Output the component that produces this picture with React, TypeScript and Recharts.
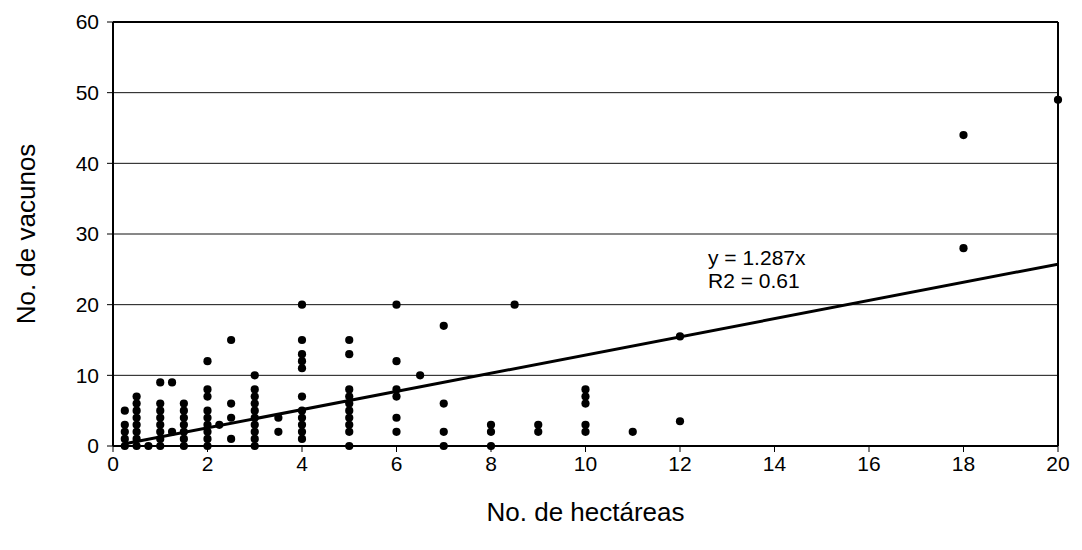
import React from 'react';
import { ScatterChart, Scatter, XAxis, YAxis, CartesianGrid, ReferenceLine } from 'recharts';

// No. de hectáreas (x) and No. de vacunos (y), paired by index
const hectareas = [
  0.25, 0.25, 0.25, 0.25, 0.25,
  0.5, 0.5, 0.5, 0.5, 0.5, 0.5, 0.5, 0.5,
  0.75,
  1, 1, 1, 1, 1, 1, 1, 1,
  1.25, 1.25,
  1.5, 1.5, 1.5, 1.5, 1.5, 1.5, 1.5,
  2, 2, 2, 2, 2, 2, 2, 2, 2,
  2.25,
  2.5, 2.5, 2.5, 2.5,
  3, 3, 3, 3, 3, 3, 3, 3, 3, 3,
  3.5, 3.5,
  4, 4, 4, 4, 4, 4, 4, 4, 4, 4, 4,
  5, 5, 5, 5, 5, 5, 5, 5, 5, 5,
  6, 6, 6, 6, 6, 6,
  6.5,
  7, 7, 7, 7,
  8, 8, 8,
  8.5,
  9, 9,
  10, 10, 10, 10, 10,
  11,
  12, 12,
  18, 18,
  20,
];
const vacunos = [
  0, 1, 2, 3, 5,
  0, 1, 2, 3, 4, 5, 6, 7,
  0,
  0, 1, 2, 3, 4, 5, 6, 9,
  2, 9,
  0, 1, 2, 3, 4, 5, 6,
  0, 1, 2, 3, 4, 5, 7, 8, 12,
  3,
  1, 4, 6, 15,
  0, 1, 2, 3, 4, 5, 6, 7, 8, 10,
  2, 4,
  1, 2, 3, 4, 5, 7, 11, 12, 13, 15, 20,
  0, 2, 3, 4, 5, 6, 7, 8, 13, 15,
  2, 4, 7, 8, 12, 20,
  10,
  0, 2, 6, 17,
  0, 2, 3,
  20,
  2, 3,
  2, 3, 6, 7, 8,
  2,
  3.5, 15.5,
  28, 44,
  49,
];

const xTicks = [0, 2, 4, 6, 8, 10, 12, 14, 16, 18, 20];
const yTicks = [0, 10, 20, 30, 40, 50, 60];

const trendSlope = 1.287;
const trendFrom = 0.25;
const trendTo = 20;
const equationText = 'y = 1.287x';
const r2Text = 'R2 = 0.61';
const xTitle = 'No. de hectáreas';
const yTitle = 'No. de vacunos';

const points = hectareas.map((x, i) => ({ x, y: vacunos[i] }));

const FONT = '"Liberation Sans", Arial, sans-serif';
const W = 1066;
const H = 520;

const Dot = (props: any) => <circle cx={props.cx} cy={props.cy} r={4.1} fill="#000" />;

const XTick = (p: any) => {
  const v = p.payload && p.payload.value;
  return (
    <text
      x={p.x}
      y={p.y}
      dy="0.71em"
      textAnchor="middle"
      fontSize={21}
      fontFamily={FONT}
      fill="#000"
    >
      {v}
    </text>
  );
};

export default function App() {
  return (
    <div style={{ position: 'relative', width: W, height: H, fontFamily: FONT }}>
      <ScatterChart width={W} height={H} margin={{ top: 14, right: 16, bottom: 0, left: 0 }}>
        <CartesianGrid vertical={false} stroke="#111" strokeWidth={1} />
        <XAxis
          type="number"
          dataKey="x"
          domain={[0, 20]}
          ticks={xTicks}
          interval={0}
          height={82}
          axisLine={{ stroke: '#000', strokeWidth: 2 }}
          tickLine={{ stroke: '#000', strokeWidth: 1 }}
          tickSize={6}
          tickMargin={4}
          tick={(p: any) => <XTick {...p} />}
          label={{
            content: (p: any) => {
              const vb = p.viewBox;
              return (
                <text
                  x={vb.x + vb.width / 2}
                  y={vb.y + 66}
                  textAnchor="middle"
                  dominantBaseline="central"
                  fontSize={26}
                  fontFamily={FONT}
                  fill="#000"
                >
                  {xTitle}
                </text>
              );
            },
          }}
        />
        <YAxis
          type="number"
          dataKey="y"
          domain={[0, 60]}
          ticks={yTicks}
          interval={0}
          width={105}
          axisLine={{ stroke: '#000', strokeWidth: 2 }}
          tickLine={{ stroke: '#000', strokeWidth: 1 }}
          tickSize={6}
          tickMargin={8}
          tick={{ fill: '#000', fontSize: 21, fontFamily: FONT }}
          label={{
            content: (p: any) => {
              const vb = p.viewBox;
              const cx = vb.x + 18;
              const cy = vb.y + vb.height / 2;
              return (
                <text
                  x={cx}
                  y={cy}
                  textAnchor="middle"
                  dominantBaseline="central"
                  fontSize={26}
                  fontFamily={FONT}
                  fill="#000"
                  transform={`rotate(-90 ${cx} ${cy})`}
                >
                  {yTitle}
                </text>
              );
            },
          }}
        />
        <ReferenceLine y={60} stroke="#000" strokeWidth={2} />
        <ReferenceLine x={20} stroke="#000" strokeWidth={2} />
        <ReferenceLine
          segment={[
            { x: trendFrom, y: trendSlope * trendFrom },
            { x: trendTo, y: trendSlope * trendTo },
          ]}
          stroke="#000"
          strokeWidth={3}
          ifOverflow="hidden"
        />
        <Scatter data={points} shape={Dot} isAnimationActive={false} />
      </ScatterChart>
      <svg
        width={W}
        height={H}
        style={{ position: 'absolute', left: 0, top: 0, pointerEvents: 'none' }}
      >
        <text x={700} y={257} fontSize={21} fontFamily={FONT} fill="#000">
          {equationText}
        </text>
        <text x={700} y={280} fontSize={21} fontFamily={FONT} fill="#000">
          {r2Text}
        </text>
      </svg>
    </div>
  );
}
